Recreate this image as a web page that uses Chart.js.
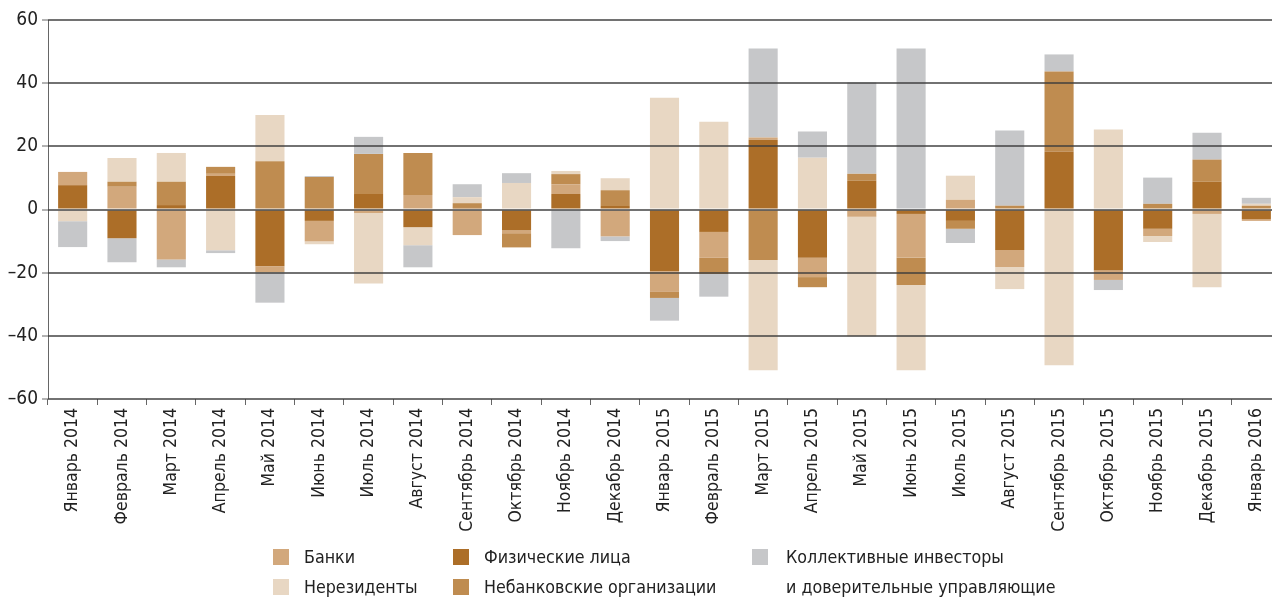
<!DOCTYPE html>
<html>
<head>
<meta charset="utf-8">
<script src="https://cdn.jsdelivr.net/npm/chart.js@4.4.1/dist/chart.umd.min.js"></script>
<style>
  html, body { margin: 0; padding: 0; background: #fff; overflow: hidden; width: 1272px; height: 597px; }
  #wrap { position: absolute; left: 0; top: 0; width: 1281px; height: 597px; }
  .lg { position: absolute; font-family: 'DejaVu Sans Condensed', 'Liberation Sans', sans-serif; font-size: 17.7px; color: #222; white-space: nowrap; line-height: 30px; }
  .sq { position: absolute; width: 16px; height: 16px; }
</style>
</head>
<body>
<div id="wrap"><canvas id="c" width="1281" height="597"></canvas></div>
<div id="legend"></div>
<script>
const categories = ["Январь 2014","Февраль 2014","Март 2014","Апрель 2014","Май 2014","Июнь 2014","Июль 2014","Август 2014","Сентябрь 2014","Октябрь 2014","Ноябрь 2014","Декабрь 2014","Январь 2015","Февраль 2015","Март 2015","Апрель 2015","Май 2015","Июнь 2015","Июль 2015","Август 2015","Сентябрь 2015","Октябрь 2015","Ноябрь 2015","Декабрь 2015","Январь 2016"];

const fizLica   = [7.7, -9.1, 1.4, 10.6, -18.0, -3.6, 4.9, -5.6, 0.7, -6.6, 4.9, 1.1, -19.5, -7.1, 22.1, -15.3, 9.1, -1.4, -3.6, -12.8, 18.3, -19.2, -6.1, 8.8, -3.0];
const banki     = [4.2, 7.2, -15.8, 0.7, -1.9, -6.5, -1.1, 4.6, -8.1, -0.9, 3.1, -8.5, -6.6, -8.2, 0.7, -6.1, -2.3, -13.9, 3.1, -5.4, 0, -3.1, -2.3, -1.4, -0.6];
const nebank    = [0, 1.6, 7.4, 2.2, 15.3, 10.3, 12.7, 13.3, 1.3, -4.5, 3.2, 5.0, -1.9, -5.1, -16.0, -3.2, 2.2, -8.6, -2.5, 1.2, 25.4, 0, 1.8, 7.0, 1.2];
const nerez     = [-3.7, 7.5, 9.1, -12.9, 14.6, -0.9, -22.3, -5.7, 1.9, 8.4, 1.0, 3.8, 35.4, 27.8, -34.9, 16.4, -37.8, -27.0, 7.6, -7.0, -49.3, 25.3, -1.9, -23.2, 0.6];
const kollekt   = [-8.2, -7.6, -2.5, -0.9, -9.6, 0.3, 5.4, -7.0, 4.1, 3.1, -12.3, -1.5, -7.2, -7.2, 28.2, 8.3, 28.9, 51.0, -4.5, 23.8, 5.4, -3.2, 8.3, 8.5, 1.9];

const yMin = -60, yMax = 60, yStep = 20;

const names = {
  banki: "Банки",
  fiz: "Физические лица",
  koll: ["Коллективные инвесторы", "и доверительные управляющие"],
  nerez: "Нерезиденты",
  nebank: "Небанковские организации"
};
const colors = {
  banki: "#d2a87c",
  fiz: "#ac6e28",
  koll: "#c6c7c9",
  nerez: "#e8d7c3",
  nebank: "#bf8c50"
};

const FONT = "'DejaVu Sans Condensed', 'Liberation Sans', sans-serif";

const ds = (label, data, color) => ({
  label, data, backgroundColor: color, borderWidth: 0,
  barPercentage: 0.59, categoryPercentage: 1.0, stack: 's'
});

const yAxisLine = {
  id: 'yAxisLine',
  afterDatasetsDraw(chart) {
    const { ctx, chartArea } = chart;
    ctx.save();
    ctx.strokeStyle = '#666';
    ctx.lineWidth = 1;
    ctx.beginPath();
    ctx.moveTo(chartArea.left + 0.5, chartArea.top);
    ctx.lineTo(chartArea.left + 0.5, chartArea.bottom);
    ctx.stroke();
    ctx.restore();
  }
};

new Chart(document.getElementById('c'), {
  type: 'bar',
  data: {
    labels: categories,
    datasets: [
      ds(names.fiz, fizLica, colors.fiz),
      ds(names.banki, banki, colors.banki),
      ds(names.nebank, nebank, colors.nebank),
      ds(names.nerez, nerez, colors.nerez),
      ds(names.koll.join(' '), kollekt, colors.koll)
    ]
  },
  plugins: [yAxisLine],
  options: {
    responsive: false,
    animation: false,
    layout: { padding: { top: 20, left: 0, right: 0, bottom: 0 } },
    plugins: { legend: { display: false }, tooltip: { enabled: false }, title: { display: false } },
    scales: {
      x: {
        stacked: true,
        afterFit: s => { s.height = 198; },
        grid: { offset: true, drawOnChartArea: false, drawTicks: true, tickLength: 6, color: '#666', lineWidth: 1 },
        border: { display: false },
        ticks: {
          minRotation: 90, maxRotation: 90, autoSkip: false, padding: 3,
          color: '#222', font: { family: FONT, size: 17.5 }
        }
      },
      y: {
        stacked: true,
        min: yMin, max: yMax,
        afterFit: s => { s.width = 48; },
        grid: { z: 1, color: 'rgba(60,60,60,0.72)', lineWidth: 2, drawTicks: true, tickLength: 6, tickColor: '#666', tickWidth: 1 },
        border: { display: false },
        ticks: {
          stepSize: yStep, padding: 4, color: '#222',
          font: { family: FONT, size: 19 },
          callback: v => String(v).replace('-', '\u2013')
        }
      }
    }
  }
});

const legendItems = [
  { key: 'banki', left: 273, top: 549 },
  { key: 'nerez', left: 273, top: 579 },
  { key: 'fiz', left: 453, top: 549 },
  { key: 'nebank', left: 453, top: 579 },
  { key: 'koll', left: 752, top: 549 }
];
const lg = document.getElementById('legend');
legendItems.forEach(it => {
  const sq = document.createElement('div');
  sq.className = 'sq';
  sq.style.left = it.left + 'px';
  sq.style.top = it.top + 'px';
  sq.style.background = colors[it.key];
  lg.appendChild(sq);
  const t = document.createElement('div');
  t.className = 'lg';
  t.style.left = (it.left + (it.key === 'koll' ? 34 : 31)) + 'px';
  t.style.top = (it.top - 7) + 'px';
  const n = names[it.key];
  t.innerHTML = Array.isArray(n) ? n.join('<br>') : n;
  lg.appendChild(t);
});
</script>
</body>
</html>
